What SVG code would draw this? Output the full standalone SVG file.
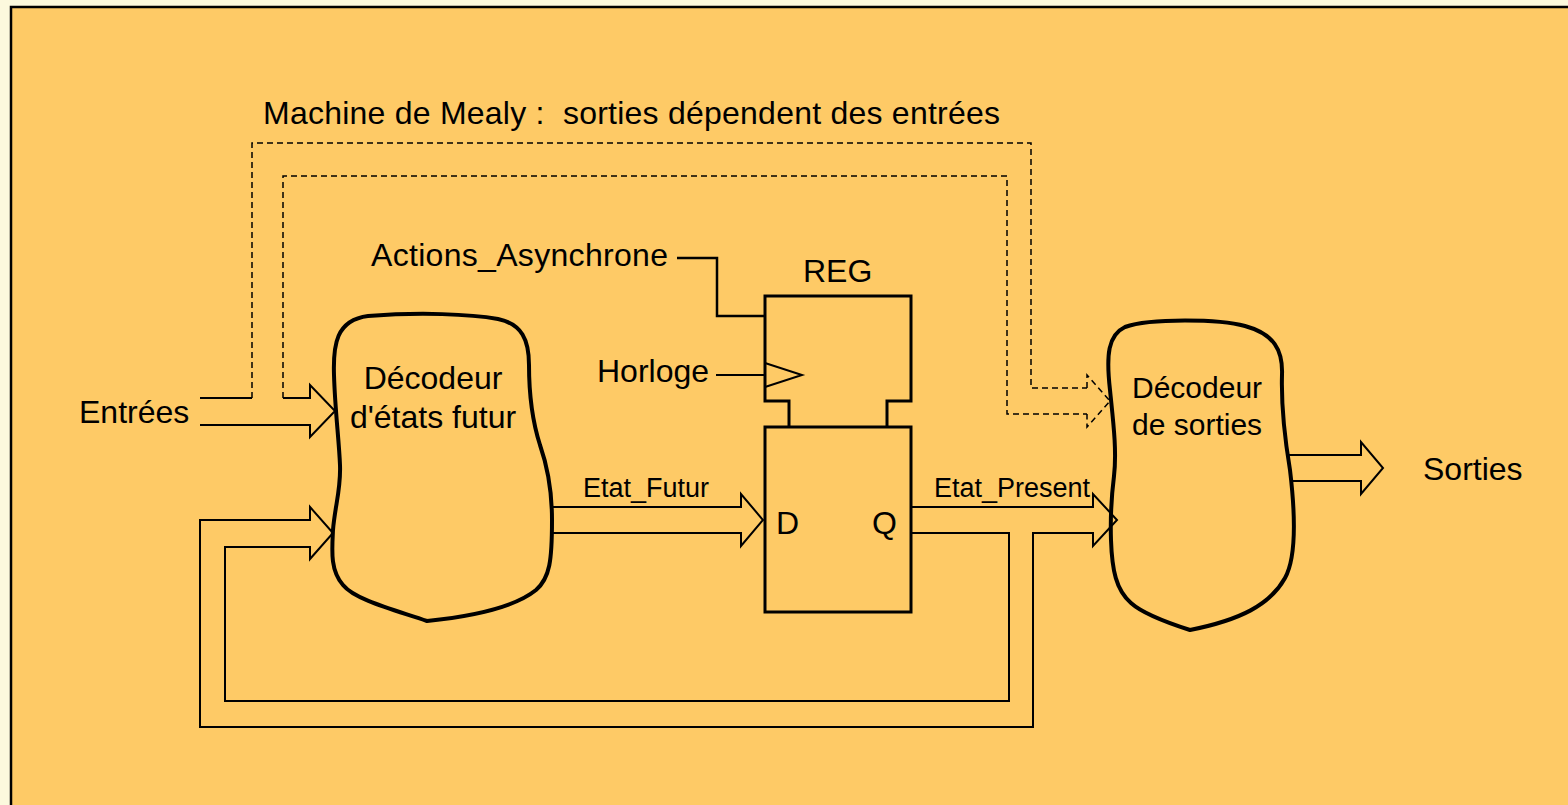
<svg xmlns="http://www.w3.org/2000/svg" width="1568" height="805" viewBox="0 0 1568 805">
<style>
text{font-family:"Liberation Sans",Arial,sans-serif;fill:#000}
.big{font-size:32px}
.mid{font-size:30px}
.sm{font-size:27px}
.blob{fill:none;stroke:#000;stroke-width:4;stroke-linejoin:round}
.bus{fill:none;stroke:#000;stroke-width:2}
.dash{fill:none;stroke:#000;stroke-width:1.5;stroke-dasharray:6 4}
.reg{fill:none;stroke:#000;stroke-width:3}
.wire{fill:none;stroke:#000;stroke-width:2.5}
</style>
<rect x="0" y="0" width="1568" height="805" fill="#FCF9DD"/>
<rect x="11" y="7" width="1570" height="810" fill="#FECA66" stroke="#000" stroke-width="2.5"/>
<text class="big" x="263" y="124" xml:space="preserve" style="white-space:pre" textLength="737">Machine de Mealy :  sorties dépendent des entrées</text>
<g id="connectors">
<path class="dash" d="M252,398 V143 H1031 V388 H1087"/>
<path class="dash" d="M283,398 V176 H1007 V414 H1087"/>
<path class="dash" d="M1087,388 V375 L1110,401 L1087,427 V414"/>
<path class="bus" d="M200,398 H252 M283,398 H310 V385 L335,411 L310,437 V425 H200"/>
<path class="bus" d="M911,533 H1009 V701 H225 V547 H310 V559 L333,533 L310,507 V520 H200 V727 H1033 V533 H1093 V546 L1117,520 L1093,494 V507 H911"/>
<path class="bus" d="M553,507 H741 V494 L763,520 L741,546 V533 H553"/>
<path class="bus" d="M1288,455 H1361 V442 L1383,468 L1361,494 V481 H1290"/>
<path class="wire" d="M677,258 H717 V316 H765"/>
<path class="bus" d="M716,375 H765"/>
</g>
<g id="entrees"><text class="big" x="79" y="423">Entrées</text></g>
<g id="decodeur-etats">
<path class="blob" d="M427,621 C395,610 355,600 343,585 C330,570 332,550 333,530 C335,505 341,490 340,465 C339,440 335,410 334,375 C333,345 336,320 368,316 C420,312 470,314 498,319 C522,324 529,340 529,365 C529,395 532,420 540,445 C548,468 552,495 552,520 C552,560 550,578 536,590 C515,607 475,616 427,621 Z"/>
<text class="big" x="433" y="389" text-anchor="middle">Décodeur</text>
<text class="big" x="433" y="428" text-anchor="middle">d'états futur</text>
</g>
<g id="reg">
<path class="reg" d="M789,427 V401 H765 V296 H911 V401 H887 V427"/>
<rect class="reg" x="765" y="427" width="146" height="185"/>
<path class="bus" d="M765,363 L802,375 L765,387"/>
<text class="big" x="803" y="282">REG</text>
<text class="big" x="776" y="534">D</text>
<text class="big" x="872" y="534">Q</text>
</g>
<g id="actions"><text class="big" x="371" y="266" textLength="297">Actions_Asynchrone</text></g>
<g id="horloge"><text class="big" x="597" y="382">Horloge</text></g>
<g id="etat-futur"><text class="sm" x="583" y="497">Etat_Futur</text></g>
<g id="etat-present"><text class="sm" x="934" y="497">Etat_Present</text></g>
<g id="decodeur-sorties">
<path class="blob" d="M1190,630 C1165,622 1142,613 1131,603 C1116,590 1112,570 1111,540 C1110,510 1112,492 1114,476 C1117,450 1113,420 1110,390 C1106,355 1108,335 1125,327 C1150,318 1220,319 1245,326 C1274,334 1283,350 1282,375 C1281,410 1285,440 1290,470 C1296,520 1295,560 1285,578 C1270,605 1240,620 1190,630 Z"/>
<text class="mid" x="1132" y="398">Décodeur</text>
<text class="mid" x="1132" y="435">de sorties</text>
</g>
<g id="sorties"><text class="big" x="1423" y="480">Sorties</text></g>
</svg>
